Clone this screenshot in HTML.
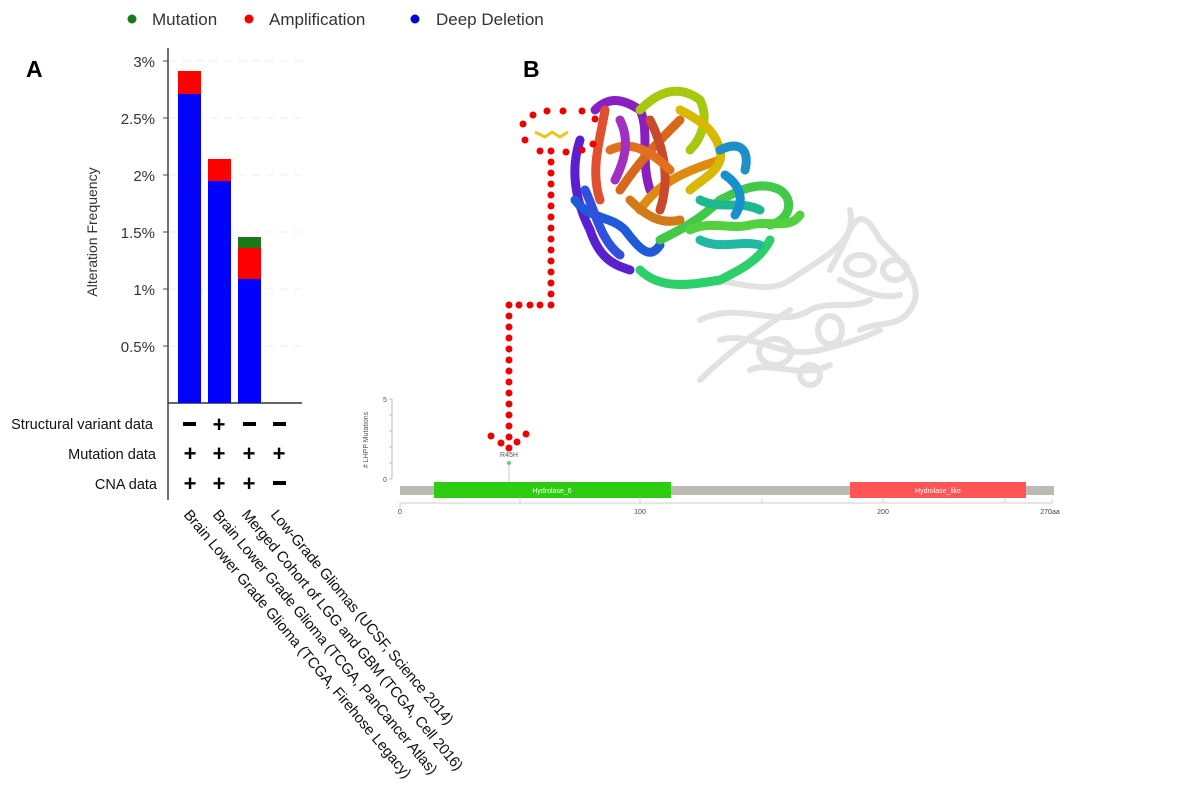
<!DOCTYPE html>
<html><head><meta charset="utf-8"><style>
body{margin:0;background:#fff;width:1181px;height:791px;overflow:hidden;font-family:"Liberation Sans",sans-serif}
</style></head><body>
<svg width="1181" height="791" viewBox="0 0 1181 791" xmlns="http://www.w3.org/2000/svg" font-family="Liberation Sans, sans-serif">
<circle cx="132" cy="19" r="4.5" fill="#1a7a1a"/><text x="152" y="25" font-size="17" fill="#333">Mutation</text>
<circle cx="249" cy="19" r="4.5" fill="#e00"/><text x="269" y="25" font-size="17" fill="#333">Amplification</text>
<circle cx="415" cy="19" r="4.5" fill="#0000cc"/><text x="436" y="25" font-size="17" fill="#333">Deep Deletion</text>
<text x="26" y="77" font-size="23" font-weight="bold">A</text>
<text x="523" y="77" font-size="23" font-weight="bold">B</text>
<g stroke="#eee" stroke-dasharray="8,6">
<line x1="168" y1="61" x2="302" y2="61"/><line x1="168" y1="118" x2="302" y2="118"/><line x1="168" y1="175" x2="302" y2="175"/>
<line x1="168" y1="232" x2="302" y2="232"/><line x1="168" y1="289" x2="302" y2="289"/><line x1="168" y1="346" x2="302" y2="346"/>
</g>
<line x1="168" y1="48" x2="168" y2="500" stroke="#444" stroke-width="1.5"/>
<line x1="168" y1="403" x2="302" y2="403" stroke="#333" stroke-width="1.5"/>
<g stroke="#444"><line x1="163" y1="61" x2="168" y2="61"/><line x1="163" y1="118" x2="168" y2="118"/><line x1="163" y1="175" x2="168" y2="175"/><line x1="163" y1="232" x2="168" y2="232"/><line x1="163" y1="289" x2="168" y2="289"/><line x1="163" y1="346" x2="168" y2="346"/></g>
<g font-size="15" fill="#333" text-anchor="end">
<text x="155" y="67">3%</text><text x="155" y="124">2.5%</text><text x="155" y="181">2%</text><text x="155" y="238">1.5%</text><text x="155" y="295">1%</text><text x="155" y="352">0.5%</text>
</g>
<text transform="translate(97,232) rotate(-90)" font-size="14" fill="#333" text-anchor="middle">Alteration Frequency</text>
<rect x="178" y="71" width="23" height="23" fill="#f00"/><rect x="178" y="94" width="23" height="309" fill="#00f"/>
<rect x="208" y="159" width="23" height="22" fill="#f00"/><rect x="208" y="181" width="23" height="222" fill="#00f"/>
<rect x="238" y="237" width="23" height="11" fill="#1a7a1a"/><rect x="238" y="248" width="23" height="31" fill="#f00"/><rect x="238" y="279" width="23" height="124" fill="#00f"/>
<g font-size="14.5" fill="#111" text-anchor="end">
<text x="153" y="429">Structural variant data</text><text x="156" y="459">Mutation data</text><text x="157" y="489">CNA data</text>
</g>
<g font-size="22" font-weight="bold" text-anchor="middle" fill="#000">
<text x="190" y="461">+</text><text x="219" y="461">+</text><text x="249" y="461">+</text><text x="279" y="461">+</text>
<text x="190" y="491">+</text><text x="219" y="491">+</text><text x="249" y="491">+</text>
<text x="219" y="432">+</text>
</g>
<g fill="#000"><rect x="183" y="422" width="13" height="4"/><rect x="243" y="422" width="13" height="4"/><rect x="273" y="422" width="13" height="4"/><rect x="273" y="481" width="13" height="4"/></g>
<g font-size="15" fill="#111">
<text transform="translate(183,515) rotate(50)" textLength="345">Brain Lower Grade Glioma (TCGA, Firehose Legacy)</text>
<text transform="translate(212,515) rotate(50)" textLength="340">Brain Lower Grade Glioma (TCGA, PanCancer Atlas)</text>
<text transform="translate(241,515) rotate(50)" textLength="335">Merged Cohort of LGG and GBM (TCGA, Cell 2016)</text>
<text transform="translate(270,515) rotate(50)" textLength="275">Low-Grade Gliomas (UCSF, Science 2014)</text>
</g>
<g fill="none" stroke="#e2e2e2" stroke-width="6" stroke-linecap="round">
<path d="M690 285 C720 270 760 300 790 280 C820 260 840 250 850 230 C860 210 870 220 880 240 C900 260 920 280 915 300 C905 330 880 320 860 330"/>
<path d="M700 320 C740 300 780 330 810 310 C830 300 850 310 870 300"/>
<path d="M720 340 C750 330 780 360 820 350 C840 345 860 340 880 330"/>
<path d="M750 370 C770 360 800 380 830 365"/>
<ellipse cx="775" cy="352" rx="16" ry="13"/><ellipse cx="860" cy="265" rx="14" ry="10"/><ellipse cx="810" cy="375" rx="10" ry="10"/>
<path d="M700 380 C730 350 760 330 790 310"/><path d="M850 210 C855 230 840 250 830 270"/>
<path d="M840 280 C860 290 880 300 900 295"/><ellipse cx="830" cy="330" rx="12" ry="14"/><ellipse cx="895" cy="270" rx="12" ry="10"/>
</g>
<g fill="none" stroke-width="9" stroke-linecap="round">
<path d="M580 140 C570 170 575 200 590 230 C600 260 615 265 630 270" stroke="#5a1fd0"/>
<path d="M595 110 C610 95 625 100 640 110 C650 130 640 160 650 190" stroke="#8a1fc0"/>
<path d="M575 200 C590 220 610 215 625 230 C640 250 650 260 660 245" stroke="#1f5ad8"/>
<path d="M605 110 C600 140 590 170 600 200" stroke="#e05030"/>
<path d="M620 190 C640 160 660 140 680 120" stroke="#d8681c"/>
<path d="M640 210 C660 180 690 170 720 160" stroke="#e08a10"/>
<path d="M640 110 C660 90 680 85 700 100 C710 120 700 140 690 150" stroke="#a8c810"/>
<path d="M680 110 C700 120 715 130 720 150 C725 170 700 180 690 190" stroke="#d8b800"/>
<path d="M720 150 C740 140 750 150 745 170" stroke="#1e8fc8"/>
<path d="M660 240 C680 230 700 220 720 200 C740 190 760 180 780 190 C795 200 790 220 770 225" stroke="#44c84a"/>
<path d="M640 270 C660 290 690 285 720 280 C740 270 760 260 770 240" stroke="#2ccf6a"/>
<path d="M700 240 C720 250 740 240 760 245" stroke="#20b8a0"/>
<path d="M650 120 C665 150 670 180 660 210" stroke="#c84a2a"/>
<path d="M630 200 C645 215 660 225 680 220" stroke="#d07a18"/>
<path d="M585 190 C595 210 600 240 620 255" stroke="#3050e0"/>
<path d="M610 150 C630 140 650 150 670 170" stroke="#e07020"/>
<path d="M700 200 C720 210 740 200 760 210" stroke="#1eb890"/>
<path d="M690 230 C710 220 730 230 750 225 C770 220 790 230 800 215" stroke="#52d040"/>
<path d="M620 120 C630 140 625 160 615 180" stroke="#a030c0"/>
<path d="M725 175 C740 185 745 200 735 215" stroke="#1890d0"/>
</g>
<path d="M535 132 L545 137 L552 132 L560 137 L568 132" stroke="#e8c820" stroke-width="3" fill="none"/>
<g fill="#e00">
<circle cx="523" cy="124" r="3.5"/><circle cx="533" cy="115" r="3.5"/><circle cx="547" cy="111" r="3.5"/><circle cx="563" cy="111" r="3.5"/><circle cx="582" cy="111" r="3.5"/><circle cx="595" cy="119" r="3.5"/><circle cx="593" cy="144" r="3.5"/><circle cx="582" cy="150" r="3.5"/><circle cx="566" cy="152" r="3.5"/><circle cx="551" cy="151" r="3.5"/><circle cx="540" cy="151" r="3.5"/><circle cx="525" cy="140" r="3.5"/>
<circle cx="551" cy="162" r="3.5"/><circle cx="551" cy="173" r="3.5"/><circle cx="551" cy="184" r="3.5"/><circle cx="551" cy="195" r="3.5"/><circle cx="551" cy="206" r="3.5"/><circle cx="551" cy="217" r="3.5"/><circle cx="551" cy="228" r="3.5"/><circle cx="551" cy="239" r="3.5"/><circle cx="551" cy="250" r="3.5"/><circle cx="551" cy="261" r="3.5"/><circle cx="551" cy="272" r="3.5"/><circle cx="551" cy="283" r="3.5"/><circle cx="551" cy="294" r="3.5"/><circle cx="551" cy="305" r="3.5"/>
<circle cx="540" cy="305" r="3.5"/><circle cx="530" cy="305" r="3.5"/><circle cx="519" cy="305" r="3.5"/><circle cx="509" cy="305" r="3.5"/>
<circle cx="509" cy="316" r="3.5"/><circle cx="509" cy="327" r="3.5"/><circle cx="509" cy="338" r="3.5"/><circle cx="509" cy="349" r="3.5"/><circle cx="509" cy="360" r="3.5"/><circle cx="509" cy="371" r="3.5"/><circle cx="509" cy="382" r="3.5"/><circle cx="509" cy="393" r="3.5"/><circle cx="509" cy="404" r="3.5"/><circle cx="509" cy="415" r="3.5"/><circle cx="509" cy="426" r="3.5"/><circle cx="509" cy="437" r="3.5"/>
<circle cx="491" cy="436" r="3.5"/><circle cx="501" cy="443" r="3.5"/><circle cx="509" cy="448" r="3.5"/><circle cx="517" cy="442" r="3.5"/><circle cx="526" cy="434" r="3.5"/>
</g>
<text transform="translate(368,440) rotate(-90)" font-size="7" fill="#555" text-anchor="middle"># LHPP Mutations</text>
<line x1="392" y1="399" x2="392" y2="479" stroke="#bbb"/>
<g stroke="#bbb"><line x1="389" y1="399" x2="392" y2="399"/><line x1="389" y1="415" x2="392" y2="415"/><line x1="389" y1="431" x2="392" y2="431"/><line x1="389" y1="447" x2="392" y2="447"/><line x1="389" y1="463" x2="392" y2="463"/><line x1="389" y1="479" x2="392" y2="479"/></g>
<text x="383" y="402" font-size="7" fill="#555">5</text><text x="383" y="482" font-size="7" fill="#555">0</text>
<line x1="509" y1="463" x2="509" y2="484" stroke="#ccc"/>
<circle cx="509" cy="463" r="2" fill="#6c6"/>
<text x="509" y="457" font-size="7" fill="#555" text-anchor="middle">R45H</text>
<rect x="400" y="486" width="654" height="9" fill="#bbbbb3"/>
<rect x="434" y="482" width="237" height="16" fill="#2ecc10"/>
<text x="552" y="493" font-size="7" fill="#fff" text-anchor="middle">Hydrolase_6</text>
<rect x="850" y="482" width="176" height="16" fill="#f55"/>
<text x="938" y="493" font-size="7" fill="#fff" text-anchor="middle">Hydrolase_like</text>
<line x1="400" y1="503" x2="1052" y2="503" stroke="#ccc"/>
<g stroke="#ccc"><line x1="400" y1="503" x2="400" y2="507"/><line x1="520" y1="499" x2="520" y2="503"/><line x1="640" y1="499" x2="640" y2="503"/><line x1="762" y1="499" x2="762" y2="503"/><line x1="883" y1="499" x2="883" y2="503"/><line x1="1005" y1="499" x2="1005" y2="503"/><line x1="1052" y1="499" x2="1052" y2="503"/></g>
<g font-size="7" fill="#444" text-anchor="middle"><text x="400" y="514">0</text><text x="640" y="514">100</text><text x="883" y="514">200</text><text x="1050" y="514">270aa</text></g>
</svg>
</body></html>
